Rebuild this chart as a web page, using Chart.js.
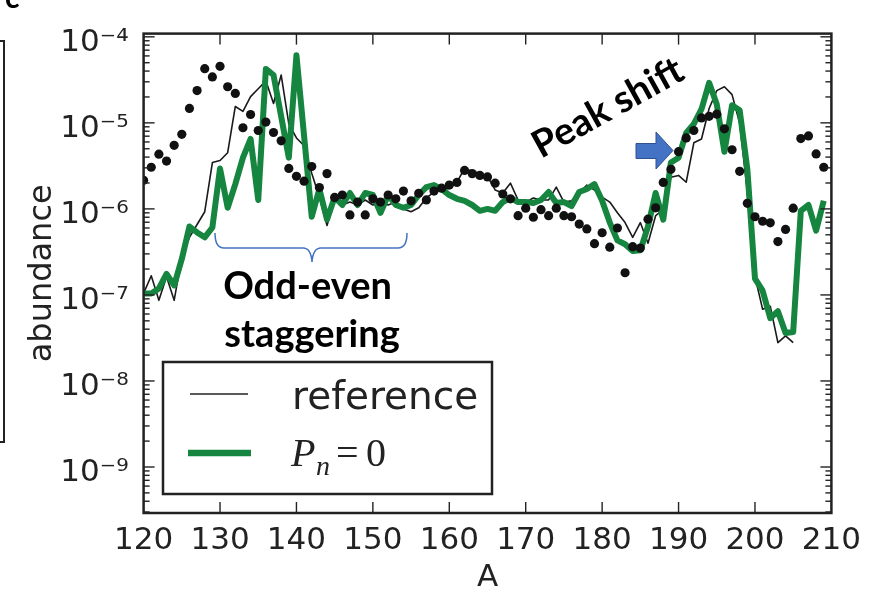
<!DOCTYPE html>
<html>
<head>
<meta charset="utf-8">
<script src="https://cdn.jsdelivr.net/npm/chart.js@4.4.0/dist/chart.umd.min.js"></script>
<style>
html,body{margin:0;padding:0;background:#fff;}
#wrap{width:872px;height:591px;position:relative;}
canvas{display:block;}
</style>
</head>
<body>
<div id="wrap"><canvas id="c" width="872" height="591"></canvas></div>
<script>
// ---------------- data ----------------
const massNumbers = [120,121,122,123,124,125,126,127,128,129,130,131,132,133,134,135,136,137,138,139,
  140,141,142,143,144,145,146,147,148,149,150,151,152,153,154,155,156,157,158,159,
  160,161,162,163,164,165,166,167,168,169,170,171,172,173,174,175,176,177,178,179,
  180,181,182,183,184,185,186,187,188,189,190,191,192,193,194,195,196,197,198,199,
  200,201,202,203,204,205,206,207,208,209];

// thin black line "reference" (ends at A = 205)
const referenceAbundance = [1.04e-7,1.67e-7,8.65e-8,1.63e-7,8.65e-8,2.76e-7,4.67e-7,6.58e-7,9.27e-7,3.46e-6,
  3.65e-6,4.5e-6,1.55e-5,1.36e-5,2.02e-5,2.49e-5,3.08e-5,1.68e-5,3.6e-5,9.7e-6,
  6.68e-6,5.41e-6,2.59e-6,1.37e-6,6.41e-7,1.31e-6,1.11e-6,1.2e-6,1.11e-6,1.27e-6,
  1.11e-6,1.2e-6,1.11e-6,1.2e-6,1.0e-6,9.27e-7,1.03e-6,1.34e-6,1.57e-6,1.66e-6,
  1.74e-6,2.04e-6,2.95e-6,2.73e-6,2.59e-6,2.39e-6,1.66e-6,1.53e-6,1.99e-6,1.27e-6,
  1.2e-6,1.34e-6,1.27e-6,1.27e-6,1.79e-6,1.2e-6,1.24e-6,1.53e-6,1.89e-6,1.66e-6,
  1.37e-6,1.2e-6,9.0e-7,6.93e-7,4.67e-7,6.93e-7,3.99e-7,8.34e-7,9.8e-7,2.33e-6,
  2.45e-6,2.04e-6,5.86e-6,6.5e-6,1.47e-5,2.37e-5,2.63e-5,2.13e-5,9.9e-6,1.57e-6,
  1.63e-7,6.82e-8,7.38e-8,2.79e-8,3.35e-8,2.79e-8,null,null,null,null];

// thick green line "Pn = 0"
const pn0Abundance = [1.04e-7,1.04e-7,1.19e-7,1.76e-7,1.29e-7,2.62e-7,6.24e-7,5.33e-7,4.67e-7,6.08e-7,
  2.95e-6,1.03e-6,1.94e-6,3.94e-6,6.5e-6,1.27e-6,4.23e-5,3.6e-5,1.19e-5,3.94e-6,
  6.1e-5,7.05e-6,8.1e-7,1.7e-6,7.5e-7,1.37e-6,1.11e-6,1.53e-6,1.11e-6,1.53e-6,
  1.45e-6,9.0e-7,1.45e-6,1.11e-6,1.03e-6,1.11e-6,1.45e-6,1.79e-6,1.89e-6,1.7e-6,
  1.45e-6,1.31e-6,1.24e-6,1.11e-6,9.5e-7,1.0e-6,9.5e-7,1.2e-6,1.34e-6,1.2e-6,
  1.2e-6,1.17e-6,1.27e-6,1.57e-6,1.17e-6,1.2e-6,1.08e-6,1.57e-6,1.7e-6,1.94e-6,
  1.24e-6,6.93e-7,4.3e-7,3.88e-7,3.23e-7,3.3e-7,6.24e-7,1.53e-6,7.5e-7,3.46e-6,
  3.94e-6,7.62e-6,9.7e-6,1.44e-5,2.92e-5,1.64e-5,4.62e-6,1.6e-5,1.4e-5,2.9e-6,
  1.55e-7,1.12e-7,5.38e-8,6.47e-8,3.62e-8,3.7e-8,9.5e-7,1.11e-6,5.6e-7,1.24e-6];

// black dots (data)
const dotAbundance = [2.15e-6,3.05e-6,4.33e-6,3.6e-6,5.48e-6,7.36e-6,1.47e-5,2.37e-5,4.26e-5,3.42e-5,
  4.54e-5,2.63e-5,2.2e-5,8.77e-6,1.25e-5,8.15e-6,1.02e-5,7.73e-6,6.18e-6,2.95e-6,
  2.39e-6,2.1e-6,3.11e-6,1.77e-6,2.57e-6,1.36e-6,1.45e-6,8.5e-7,1.2e-6,8.5e-7,
  1.31e-6,1.2e-6,1.45e-6,1.31e-6,1.61e-6,1.24e-6,1.52e-6,1.27e-6,1.61e-6,1.74e-6,
  1.89e-6,2.03e-6,2.8e-6,2.57e-6,2.45e-6,2.35e-6,1.99e-6,1.49e-6,1.31e-6,8.34e-7,
  1.02e-6,8.0e-7,9.8e-7,8.34e-7,1.02e-6,8.34e-7,8.1e-7,6.67e-7,5.85e-7,3.94e-7,
  5.28e-7,3.59e-7,6.0e-7,1.81e-7,3.64e-7,3.5e-7,7.6e-7,1.03e-6,2.03e-6,2.88e-6,
  4.62e-6,6.68e-6,8.15e-6,1.14e-5,1.19e-5,1.26e-5,8.53e-6,4.87e-6,2.73e-6,1.16e-6,
  8.1e-7,7.18e-7,6.89e-7,4.17e-7,5.77e-7,1.02e-6,6.56e-6,7.05e-6,4.35e-6,3.05e-6];

const xTickValues = [120,130,140,150,160,170,180,190,200,210];
const yTickValues = [1e-9,1e-8,1e-7,1e-6,1e-5,1e-4];
const seriesNames = ['reference', 'P_n=0'];

// ---------------- helpers ----------------
const SUP = {'-':'\u207B','0':'\u2070','1':'\u00B9','2':'\u00B2','3':'\u00B3','4':'\u2074','5':'\u2075','6':'\u2076','7':'\u2077','8':'\u2078','9':'\u2079'};
function powLabel(v){
  const e = Math.round(Math.log10(v));
  return '10' + String(e).split('').map(c => SUP[c]).join('');
}
function pts(arr){ return massNumbers.map((a,i) => ({x:a, y:arr[i]})); }

const INK = '#222222';
const GREEN = '#15853f';
const BLUE = '#4472C4';

// ---------------- decorations ----------------
const decor = {
  id: 'decor',
  afterDatasetsDraw(chart){
    const {ctx, chartArea:a, scales:{x, y}} = chart;
    ctx.save();
    ctx.strokeStyle = INK;
    ctx.lineWidth = 1.4;
    const ln = (x1,y1,x2,y2) => { ctx.beginPath(); ctx.moveTo(x1,y1); ctx.lineTo(x2,y2); ctx.stroke(); };
    xTickValues.forEach(v => {
      const px = x.getPixelForValue(v);
      if (px <= a.left + 1 || px >= a.right - 1) return;
      ln(px, a.bottom, px, a.bottom - 11);
      ln(px, a.top, px, a.top + 11);
    });
    for (let e = -10; e <= -4; e++) {
      for (let m = 1; m <= 9; m++) {
        const v = m * Math.pow(10, e);
        if (v < y.min || v > y.max) continue;
        const py = y.getPixelForValue(v);
        const len = (m === 1) ? 11 : 6;
        ln(a.left, py, a.left + len, py);
        ln(a.right, py, a.right - len, py);
      }
    }
    ctx.lineWidth = 2.5;
    ctx.strokeRect(a.left, a.top, a.right - a.left, a.bottom - a.top);
    ctx.restore();
  },
  afterDraw(chart){
    const ctx = chart.ctx;
    ctx.save();
    // ---- legend ----
    ctx.fillStyle = '#fff';
    ctx.fillRect(163, 362, 329, 132);
    ctx.strokeStyle = INK; ctx.lineWidth = 2.5;
    ctx.strokeRect(163, 362, 329, 132);
    ctx.lineCap = 'butt';
    ctx.strokeStyle = INK; ctx.lineWidth = 1.6;
    ctx.beginPath(); ctx.moveTo(190, 394); ctx.lineTo(248, 394); ctx.stroke();
    ctx.strokeStyle = GREEN; ctx.lineWidth = 6.5;
    ctx.beginPath(); ctx.moveTo(188, 453); ctx.lineTo(251, 453); ctx.stroke();
    ctx.fillStyle = INK;
    ctx.textBaseline = 'alphabetic'; ctx.textAlign = 'left';
    ctx.font = '39px "DejaVu Sans"';
    ctx.fillText(seriesNames[0], 292, 409);
    ctx.font = 'italic 40px "Liberation Serif"';
    ctx.fillText('P', 291, 466);
    ctx.font = 'italic 28px "Liberation Serif"';
    ctx.fillText('n', 316, 475);
    ctx.font = '40px "Liberation Serif"';
    ctx.fillText('=', 336, 466);
    ctx.fillText('0', 366, 466);

    // ---- annotations ----
    ctx.fillStyle = '#000';
    ctx.font = 'bold 38px Lato';
    ctx.textAlign = 'center';
    ctx.fillText('Odd-even', 307.5, 299);
    ctx.fillText('staggering', 312, 347);

    ctx.save();
    ctx.translate(541, 159);
    ctx.rotate(-29 * Math.PI / 180);
    ctx.textAlign = 'left';
    ctx.fillText('Peak shift', 0, 0);
    ctx.restore();

    // brace
    ctx.strokeStyle = BLUE; ctx.lineWidth = 1.5;
    ctx.beginPath();
    ctx.moveTo(215, 233);
    ctx.quadraticCurveTo(215, 248, 224, 248);
    ctx.lineTo(303, 248);
    ctx.quadraticCurveTo(311, 248, 312, 262);
    ctx.quadraticCurveTo(313, 248, 321, 248);
    ctx.lineTo(398, 248);
    ctx.quadraticCurveTo(407, 248, 407, 233);
    ctx.stroke();

    // arrow
    ctx.fillStyle = BLUE; ctx.strokeStyle = '#2F528F'; ctx.lineWidth = 1;
    ctx.beginPath();
    ctx.moveTo(636, 143.5); ctx.lineTo(656, 143.5); ctx.lineTo(656, 132);
    ctx.lineTo(673, 150.5); ctx.lineTo(656, 169); ctx.lineTo(656, 158.5);
    ctx.lineTo(636, 158.5); ctx.closePath();
    ctx.fill(); ctx.stroke();

    // cropped neighbour panel remnants
    ctx.fillStyle = '#000';
    ctx.font = 'bold 30px Lato';
    ctx.textAlign = 'left';
    ctx.fillText('c', 5, 8);
    ctx.strokeStyle = INK; ctx.lineWidth = 2;
    ctx.beginPath();
    ctx.moveTo(0, 41); ctx.lineTo(4, 41); ctx.lineTo(4, 442); ctx.lineTo(0, 442);
    ctx.stroke();
    ctx.restore();
  }
};

// ---------------- chart ----------------
new Chart(document.getElementById('c'), {
  type: 'line',
  data: {
    datasets: [
      { label: 'data', data: pts(dotAbundance), showLine: false, pointRadius: 4.6,
        pointBackgroundColor: '#111', pointBorderWidth: 0, pointHoverRadius: 4.6 },
      { label: seriesNames[1], data: pts(pn0Abundance), borderColor: GREEN, borderWidth: 6,
        pointRadius: 0, tension: 0, borderJoinStyle: 'round', spanGaps: false },
      { label: seriesNames[0], data: pts(referenceAbundance), borderColor: '#1a1a1a', borderWidth: 1.6,
        pointRadius: 0, tension: 0, borderJoinStyle: 'round', spanGaps: false }
    ]
  },
  options: {
    responsive: false,
    animation: false,
    devicePixelRatio: 1,
    layout: { padding: { left: 0, right: 40.6, top: 26, bottom: 0 } },
    plugins: { legend: { display: false }, tooltip: { enabled: false } },
    scales: {
      x: {
        type: 'linear', min: 120, max: 210,
        afterBuildTicks: s => { s.ticks = xTickValues.map(v => ({ value: v })); },
        afterFit: s => { s.height = 78; },
        grid: { display: false, drawTicks: false },
        border: { display: false },
        ticks: { autoSkip: false, maxRotation: 0, padding: 9, color: INK,
                 font: { family: 'DejaVu Sans', size: 31 } },
        title: { display: true, text: 'A', color: INK, padding: { top: 0, bottom: 0 },
                 font: { family: 'DejaVu Sans', size: 31, lineHeight: 0.86 } }
      },
      y: {
        type: 'logarithmic', min: 2.92e-10, max: 1.09e-4,
        afterBuildTicks: s => { s.ticks = yTickValues.map(v => ({ value: v })); },
        afterFit: s => { s.width = 143.6; },
        grid: { display: false, drawTicks: false },
        border: { display: false },
        ticks: { autoSkip: false, padding: 15, labelOffset: 6, color: INK,
                 callback: v => powLabel(v),
                 font: { family: 'DejaVu Sans', size: 31 } },
        title: { display: true, text: 'abundance', color: INK, padding: { top: 23, bottom: 0 },
                 font: { family: 'DejaVu Sans', size: 32 } }
      }
    }
  },
  plugins: [decor]
});
</script>
</body>
</html>
